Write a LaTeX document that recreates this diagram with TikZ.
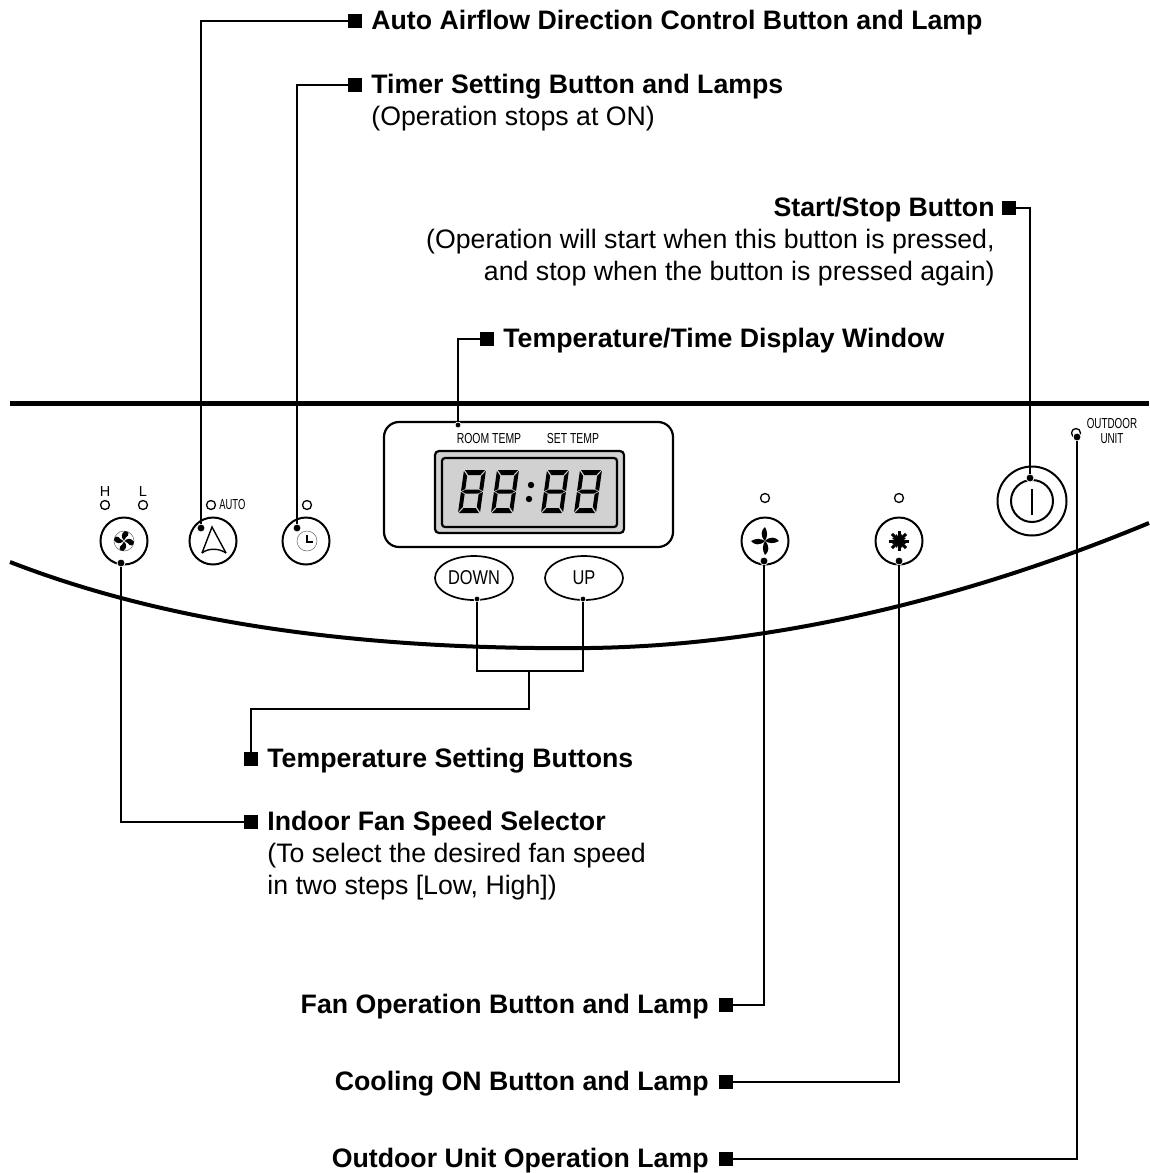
\documentclass[tikz,border=0pt]{standalone}
\usepackage{fontspec}
\setmainfont{Liberation Sans}
\usetikzlibrary{positioning,calc,shapes.geometric}
\newcommand{\thinlab}[2][0.72]{\scalebox{#1}[1]{#2}}
\begin{document}
\begin{tikzpicture}[x=1pt,y=-1pt,
  sq/.style={fill=black, inner sep=0pt, minimum size=14pt},
  hd/.style={font=\fontsize{26.7}{32}\selectfont\bfseries, inner sep=0pt, text height=20.5pt, text depth=4.5pt},
  sb/.style={font=\fontsize{26.7}{32}\selectfont, inner sep=0pt, text height=20.5pt, text depth=4.5pt},
  btn/.style={draw, circle, line width=2pt, inner sep=0pt, minimum size=47pt},
  lamp/.style={draw, circle, line width=1.3pt, inner sep=0pt, minimum size=9pt},
  pin/.style={fill=black, draw=white, line width=0.8pt, circle, inner sep=0pt, minimum size=8pt},
  lead/.style={line width=1.7pt},
  oval/.style={draw, ellipse, line width=1.7pt, inner sep=0pt, minimum width=78pt, minimum height=44pt,
               font=\fontsize{20}{20}\selectfont},
  tiny/.style={font=\fontsize{14.5}{14.5}\selectfont, inner sep=0pt},
  digit/.pic={
    \fill (1,0)--(21,0)--(17,5)--(5,5)--cycle
      (0,1)--(4,6)--(4,19)--(0,21)--cycle
      (22,1)--(22,21)--(18,19)--(18,6)--cycle
      (1,21.5)--(5,19.5)--(17,19.5)--(21,21.5)--(17,23.5)--(5,23.5)--cycle
      (0,22)--(4,24)--(4,37)--(0,42)--cycle
      (22,22)--(22,42)--(18,37)--(18,24)--cycle
      (5,38)--(17,38)--(21,43)--(1,43)--cycle;}]
\useasboundingbox (0,0) rectangle (1149,1173);
% panel edges
\draw[line width=5pt] (10,403) -- (1149,403);
\draw[line width=4pt] (10,562) .. controls (190,632) and (400,650) .. (590,648) .. controls (800,645) and (1000,585) .. (1149,523);
% display
\draw[line width=2.2pt, rounded corners=15pt, fill=white] (384,422) rectangle (673,547);
\draw[line width=2.2pt, rounded corners=4pt, fill=black!18] (435,451) rectangle (624,533);
\draw[line width=2.2pt, rounded corners=3pt] (442,458) rectangle (617,527);
\foreach \digx in {464,497,547,580}
  \pic[xslant=0.14] at (\digx,470) {digit};
\fill (531,485) circle (3.2pt) (529,499) circle (3.2pt);
\node[tiny] (roomlab) at (489,439) {\thinlab{ROOM TEMP}};
\node[tiny] (setlab) at (573,439) {\thinlab{SET TEMP}};
% buttons
\node[btn] (fanbtn) at (124,541) {};
\node[btn] (autobtn) at (213,541) {};
\node[btn] (timerbtn) at (306,541) {};
\node[btn] (runbtn) at (765,541) {};
\node[btn] (coolbtn) at (899,541) {};
\node[btn, minimum size=69pt] (startbtn) at (1032,501) {};
\node[btn, minimum size=42pt] (startin) at (1032,501) {};
\draw[line width=1.3pt] (1032,489) -- (1032,515);
\node[oval] (downbtn) at (474,578) {\thinlab[0.82]{DOWN}};
\node[oval] (upbtn) at (584,578) {\thinlab[0.82]{UP}};
% lamps
\node[lamp] (hlamp) at (105,505) {};
\node[lamp] (llamp) at (143,505) {};
\node[lamp] (autolamp) at (211,505) {};
\node[lamp] (timerlamp) at (307,505) {};
\node[lamp] (runlamp) at (765,498) {};
\node[lamp] (coollamp) at (899,498) {};
\node[lamp] (outlamp) at (1076,433) {};
\node[tiny, above=3pt of hlamp] (hlab) {H};
\node[tiny, above=3pt of llamp] (llab) {L};
\node[tiny, right=3pt of autolamp] (autotxt) {\thinlab[0.65]{AUTO}};
\node[tiny, align=center, font=\fontsize{14.5}{15}\selectfont] (outtxt) at (1112,431) {\thinlab[0.68]{OUTDOOR}\\\thinlab[0.68]{UNIT}};
% icons
\draw[line width=0.5pt, draw=black!60] (124,541) circle (10pt);
\foreach \ang in {0,90,180,270}
  \fill[shift={(124,541)}, rotate=\ang] (0,-0.5) .. controls (-3,-3) and (-3,-8) .. (1,-10) .. controls (4,-9.5) and (6,-7) .. (4,-5.5) .. controls (2,-5) and (1.5,-2) .. (0,-0.5);
\draw[line width=1.4pt] (202,553) -- (212,527) -- (226,553);
\draw[line width=1.4pt] (202,553) .. controls (208,548) and (219,548) .. (226,553);
\draw[line width=0.5pt, draw=black!60] (307,541) circle (10pt);
\draw[line width=1.8pt] (307,535) -- (307,542) -- (313,542);
\foreach \ang in {0,90,180,270}
  \fill[shift={(765,541)}, rotate=\ang] (0,0) .. controls (-5,-5) and (-4,-11) .. (0,-14) .. controls (3,-9) and (2.5,-4) .. (0,0);
\foreach \ang in {0,45,90,135}
  \draw[line width=3pt, shift={(899,541)}, rotate=\ang] (0,-10) -- (0,10);
\foreach \ang in {22.5,67.5,112.5,157.5}
  \draw[line width=1.4pt, shift={(899,541)}, rotate=\ang] (0,-7) -- (0,7);
% labels
\node[sq] (autosq) at (355,21) {};
\node[hd, right=9pt of autosq] (autolab) {Auto Airflow Direction Control Button and Lamp};
\node[sq] (timersq) at (355,85) {};
\node[hd, right=9pt of timersq] (timerlab) {Timer Setting Button and Lamps};
\node[sb, below=7pt of timerlab.south west, anchor=north west] (timersub) {(Operation stops at ON)};
\node[sq] (startsq) at (1009,208) {};
\node[hd, left=7pt of startsq] (startlab) {Start/Stop Button};
\node[sb, below=7pt of startlab.south east, anchor=north east] (startsub) {(Operation will start when this button is pressed,};
\node[sb, below=7pt of startsub.south east, anchor=north east] (startsubb) {and stop when the button is pressed again)};
\node[sq] (dispsq) at (487,339) {};
\node[hd, right=9pt of dispsq] (displab) {Temperature/Time Display Window};
\node[sq] (tempsq) at (251,759) {};
\node[hd, right=9pt of tempsq] (templab) {Temperature Setting Buttons};
\node[sq] (fansq) at (251,822) {};
\node[hd, right=9pt of fansq] (fanlab) {Indoor Fan Speed Selector};
\node[sb, below=7pt of fanlab.south west, anchor=north west] (fansub) {(To select the desired fan speed};
\node[sb, below=7pt of fansub.south west, anchor=north west] (fansubb) {in two steps [Low, High])};
\node[sq] (runsq) at (726,1005) {};
\node[hd, left=10pt of runsq] (runlab) {Fan Operation Button and Lamp};
\node[sq] (coolsq) at (726,1082) {};
\node[hd, left=10pt of coolsq] (coollab) {Cooling ON Button and Lamp};
\node[sq] (outsq) at (726,1159) {};
\node[hd, left=10pt of outsq] (outlab) {Outdoor Unit Operation Lamp};
% pins
\node[pin] (autopin) at (201,528) {};
\node[pin] (timerpin) at (297,528) {};
\node[pin] (startpin) at (1030,478) {};
\node[pin, minimum size=6pt] (disppin) at (458,425) {};
\node[pin, minimum size=6pt] (downpin) at (477,599) {};
\node[pin, minimum size=6pt] (uppin) at (583,599) {};
\node[pin] (fanpin) at (121,563) {};
\node[pin] (runpin) at (764,561) {};
\node[pin] (coolpin) at (899,561) {};
\node[pin] (outpin) at (1077,437) {};
\coordinate (tempbrk) at (529,671);
\coordinate (tempbend) at (251,709);
% leaders
\draw[lead] (autosq) -| (autopin);
\draw[lead] (timersq) -| (timerpin);
\draw[lead] (startsq) -| (startpin);
\draw[lead] (dispsq) -| (disppin);
\draw[lead] (downpin) |- (tempbrk) -| (uppin);
\draw[lead] (tempsq) -- (tempbend) -| (tempbrk);
\draw[lead] (fansq) -| (fanpin);
\draw[lead] (runsq) -| (runpin);
\draw[lead] (coolsq) -| (coolpin);
\draw[lead] (outsq) -| (outpin);
\end{tikzpicture}
\end{document}
